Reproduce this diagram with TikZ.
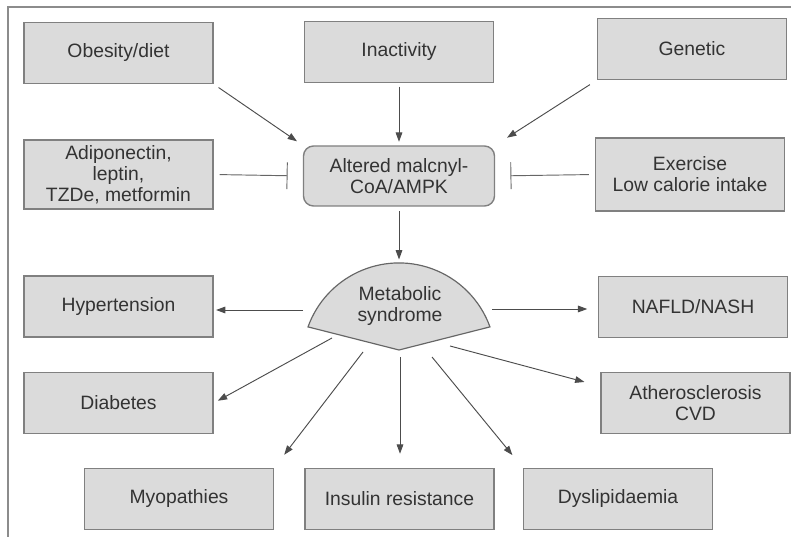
\documentclass[tikz,border=0pt]{standalone}
\usepackage{fontspec}
\setmainfont{Liberation Sans}
\usetikzlibrary{arrows.meta}

\begin{document}
\begin{tikzpicture}[x=0.03cm,y=0.03cm,>={Triangle[length=2.8mm,width=2mm]},font=\fontsize{16.5}{18}\selectfont]
        \tikzstyle{box}=[rectangle,draw=black!50,line width=1.2pt,fill=black!14,text=black!80,minimum width=5.67cm,minimum height=1.83cm,inner sep=0pt,align=center]
        \tikzstyle{rbox}=[box,rounded corners=0.3cm,minimum width=5.73cm,minimum height=1.8cm]
        \tikzstyle{arr}=[->,draw=black!70,line width=0.8pt]
        \tikzstyle{inhib}=[-{Bar[width=8mm]},draw=black!60,line width=0.8pt]

        \useasboundingbox (0,0) rectangle (791,537);
        \draw [black!45,line width=1.5pt] (8,-5) -- (8,530) -- (800,530); %frame

        \node [box] (obes) at (118.5,484) {Obesity/diet};
        \node [box] (inact) at (399,485) {Inactivity};
        \node [box] (gen) at (692,488) {Genetic};
        \node [box, minimum height=2.07cm] (adip) at (118.5,362.5) {Adiponectin,\\leptin,\\TZDe, metformin};
        \node [rbox] (alt) at (399,361) {Altered malcnyl-\\CoA/AMPK};
        \node [box, minimum height=2.19cm] (exe) at (690,362.5) {Exercise\\Low calorie intake};
        \node [box] (hyp) at (118.5,230.5) {Hypertension};
        \node [box] (naf) at (693,230) {NAFLD/NASH};
        \node [box] (dia) at (118.5,134) {Diabetes};
        \node [box] (ath) at (695.5,134) {Atherosclerosis\\CVD};
        \node [box] (myo) at (179,38) {Myopathies};
        \node [box] (ins) at (399.5,38) {Insulin resistance};
        \node [box] (dys) at (618,38) {Dyslipidaemia};

        % the fan
        \draw [draw=black!60,line width=1pt,fill=black!14] (399,187) -- (308,210.1) arc [start angle=160.2,end angle=19.8,radius=96.7] -- cycle;
        \node [text=black!80,align=center] (met) at (400,231) {Metabolic\\syndrome};
        \coordinate (mtop) at (399,274);
        \coordinate (mh) at (303,227);
        \coordinate (mn) at (492,228);
        \coordinate (md) at (332,199);
        \coordinate (mm) at (363,185);
        \coordinate (mi) at (400,180);
        \coordinate (my) at (432,180);
        \coordinate (ma) at (450,191);

        \draw [arr,shorten <=5pt,shorten >=6pt] (obes.south east) -- (alt.north west);
        \draw [arr,shorten <=3pt,shorten >=3pt] (inact) -- (alt);
        \draw [arr,shorten <=7pt,shorten >=12pt] (gen.south west) -- (alt.north east);
        \draw [inhib,shorten <=5pt,shorten >=13pt] (adip.east) -- (alt.west);
        \draw [inhib,shorten <=5pt,shorten >=13pt] (exe.west) -- (alt.east);
        \draw [arr,shorten <=4pt,shorten >=3pt] (alt) -- (mtop);

        \draw [arr,shorten >=2pt] (mh) -- (mh -| hyp.east);
        \draw [arr,shorten >=9pt] (mn) -- (mn -| naf.west);
        \draw [arr,shorten >=4pt] (md) -- (dia.east);
        \draw [arr,shorten >=14pt] (mm) -- (myo.north east);
        \draw [arr,shorten >=12pt] (mi) -- (mi |- ins.north);
        \draw [arr,shorten >=14pt] (my) -- (dys.north west);
        \draw [arr,shorten >=14pt] (ma) -- (ath.170);
\end{tikzpicture}
\end{document}
